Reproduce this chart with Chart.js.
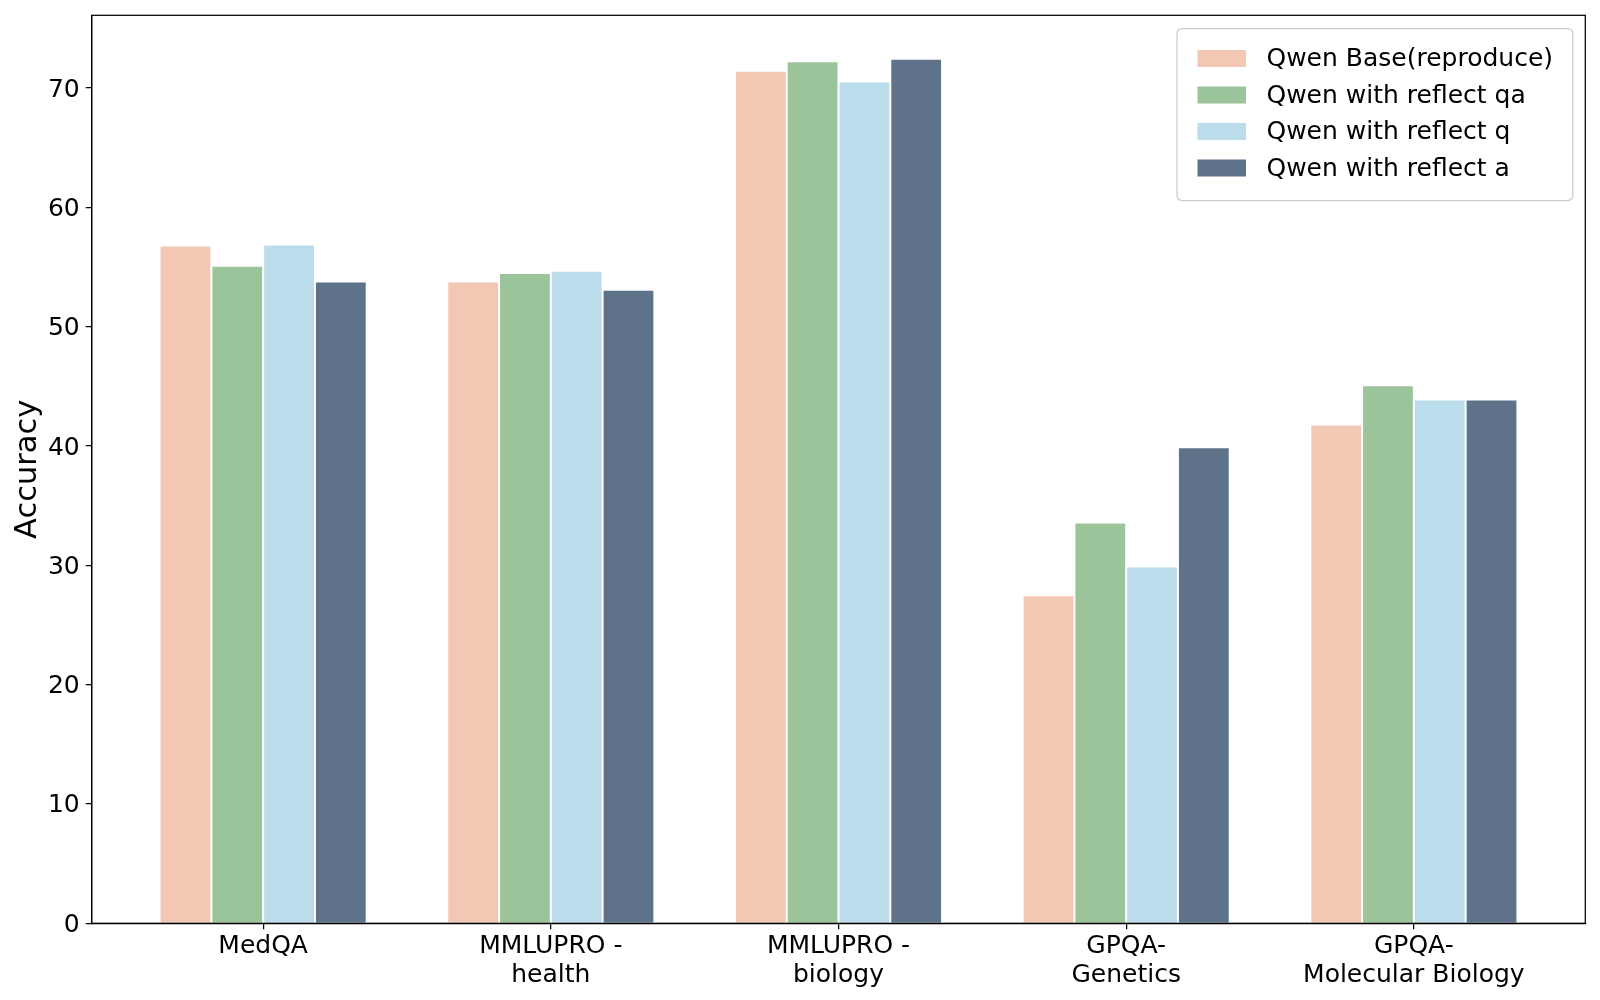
<!DOCTYPE html>
<html>
<head>
<meta charset="utf-8">
<script src="https://cdn.jsdelivr.net/npm/chart.js@4.4.1/dist/chart.umd.min.js"></script>
<style>
  html, body { margin: 0; padding: 0; background: #fff; }
  #wrap { width: 1600px; height: 1000px; }
</style>
</head>
<body>
<div id="wrap"><canvas id="grafico" width="1600" height="1000"></canvas></div>
<script>
const categorias = ["MedQA", ["MMLUPRO -", "health"], ["MMLUPRO -", "biology"], ["GPQA-", "Genetics"], ["GPQA-", "Molecular Biology"]];
const series = ["Qwen Base(reproduce)", "Qwen with reflect qa", "Qwen with reflect q", "Qwen with reflect a"];
const baseReproduce = [56.8, 53.8, 71.45, 27.5, 41.8];
const reflectQA = [55.1, 54.5, 72.25, 33.6, 45.1];
const reflectQ = [56.9, 54.7, 70.55, 29.9, 43.9];
const reflectA = [53.8, 53.1, 72.45, 39.9, 43.9];
const yTicks = [0, 10, 20, 30, 40, 50, 60, 70];
const cores = ["#f2c8b5", "#9cc49b", "#bbdcea", "#5e7389"];

const valores = [baseReproduce, reflectQA, reflectQ, reflectA];

Chart.defaults.font.family = "'DejaVu Sans', sans-serif";
Chart.defaults.color = "#000";

// moldura completa do grafico
const moldura = {
  id: "moldura",
  afterDatasetsDraw(chart) {
    const { ctx, chartArea: a } = chart;
    ctx.save();
    ctx.strokeStyle = "#000";
    ctx.lineWidth = 1.25;
    ctx.strokeRect(a.left, a.top, a.right - a.left, a.bottom - a.top);
    ctx.restore();
  }
};

// legenda dentro da area, canto superior direito
const legendaInterna = {
  id: "legendaInterna",
  afterDraw(chart) {
    const { ctx, chartArea: a } = chart;
    const x0 = 1177, y0 = 28.5, w = a.right - 12.5 - x0, h = 172;
    ctx.save();
    ctx.fillStyle = "rgba(255,255,255,0.8)";
    ctx.strokeStyle = "#cccccc";
    ctx.lineWidth = 1.25;
    ctx.beginPath();
    ctx.roundRect(x0, y0, w, h, 5);
    ctx.fill();
    ctx.stroke();
    ctx.font = "25px 'DejaVu Sans'";
    ctx.textBaseline = "middle";
    chart.data.datasets.forEach((ds, i) => {
      const cy = 58.5 + i * 36.5;
      ctx.fillStyle = ds.backgroundColor;
      ctx.fillRect(1197.5, cy - 8.5, 48.5, 17);
      ctx.fillStyle = "#000";
      ctx.fillText(ds.label, 1266.5, cy + 1);
    });
    ctx.restore();
  }
};

new Chart(document.getElementById("grafico"), {
  type: "bar",
  data: {
    datasets: series.map((nome, i) => ({
      label: nome,
      data: valores[i].map((v, j) => ({ x: j, y: v })),
      backgroundColor: cores[i],
      borderColor: "#ffffff",
      borderWidth: 1,
      borderSkipped: "start"
    }))
  },
  options: {
    responsive: false,
    animation: false,
    devicePixelRatio: 1,
    categoryPercentage: 0.72,
    barPercentage: 1.0,
    layout: { padding: { top: 15.3, right: 14.7, left: 0, bottom: 0 } },
    plugins: {
      legend: { display: false },
      tooltip: { enabled: false }
    },
    scales: {
      x: {
        type: "linear",
        offset: false,
        min: -0.596,
        max: 4.596,
        afterBuildTicks: axis => { axis.ticks = categorias.map((c, i) => ({ value: i })); },
        afterFit: axis => { axis.height = 76.7; axis.paddingLeft = 0; axis.paddingRight = 0; },
        ticks: {
          font: { size: 25, lineHeight: 1.15 },
          padding: 3,
          maxRotation: 0,
          autoSkip: false,
          callback: v => categorias[v]
        },
        grid: { offset: false, drawOnChartArea: false, tickLength: 6, color: "#000", lineWidth: 1.25 },
        border: { color: "#000", width: 1.25 }
      },
      y: {
        min: 0,
        max: 76.1,
        afterBuildTicks: axis => { axis.ticks = yTicks.map(v => ({ value: v })); },
        afterFit: axis => { axis.width = 91.7; axis.paddingTop = 0; axis.paddingBottom = 0; },
        ticks: { font: { size: 25 }, padding: 6, labelOffset: 2 },
        grid: { drawOnChartArea: false, tickLength: 6, color: "#000", lineWidth: 1.25 },
        border: { color: "#000", width: 1.25 },
        title: { display: true, text: "Accuracy", font: { size: 30.5 }, padding: { top: 10, bottom: 0 } }
      }
    }
  },
  plugins: [moldura, legendaInterna]
});
</script>
</body>
</html>
